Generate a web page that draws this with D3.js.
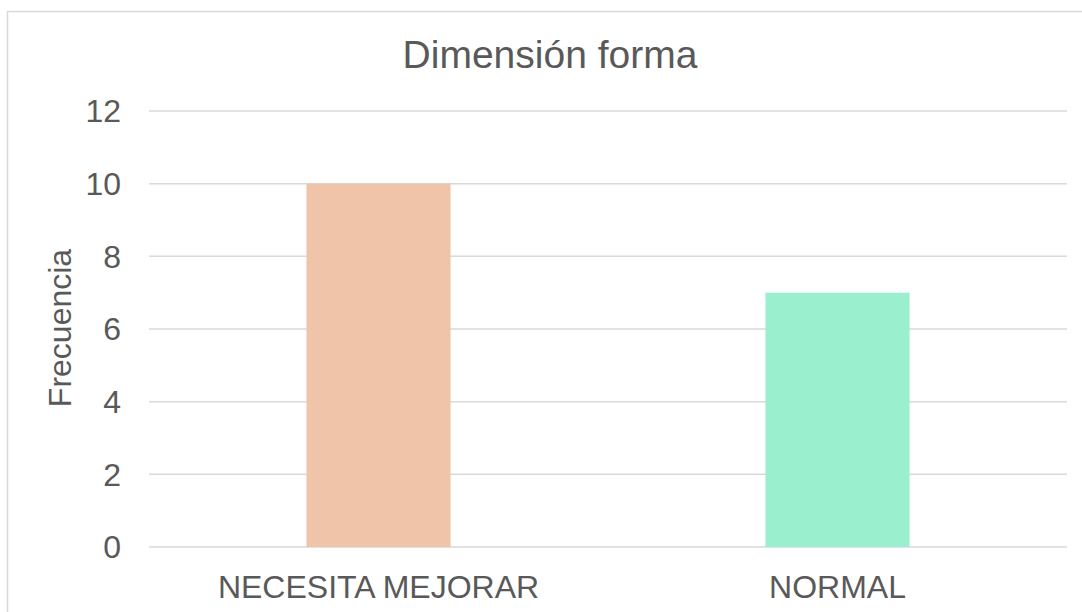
<!DOCTYPE html>
<html>
<head>
<meta charset="utf-8">
<script src="https://cdn.jsdelivr.net/npm/d3@7"></script>
<style>
  body { margin: 0; background: #fff; }
  text { font-family: "Liberation Sans", Arial, sans-serif; fill: #595959; }
</style>
</head>
<body>
<svg id="chart" width="1082" height="612"></svg>
<script>
  // Data
  var categories = ['NECESITA MEJORAR', 'NORMAL']
  var values = [10, 7]
  var barColors = ['#F0C4A9', '#9AEFCE']
  var yTicks = [0, 2, 4, 6, 8, 10, 12]

  var svg = d3.select('#chart')

  // chart area border
  svg.append('rect')
    .attr('x', 7.5).attr('y', 11.5)
    .attr('width', 1100).attr('height', 700)
    .attr('fill', '#fff')
    .attr('stroke', '#d9d9d9')
    .attr('stroke-width', 1.5)

  var x = d3.scaleBand()
    .domain(categories)
    .range([149, 1067])
    .paddingInner(0.686)
    .paddingOuter(0.343)

  var y = d3.scaleLinear()
    .domain([0, 12])
    .range([547, 111])

  // gridlines
  svg.append('g')
    .selectAll('line')
    .data(yTicks)
    .enter().append('line')
    .attr('x1', 149).attr('x2', 1067)
    .attr('y1', function (d) { return y(d) })
    .attr('y2', function (d) { return y(d) })
    .attr('stroke', '#d9d9d9')
    .attr('stroke-width', 1.5)

  // bars
  svg.append('g')
    .selectAll('rect')
    .data(values)
    .enter().append('rect')
    .attr('x', function (d, i) { return x(categories[i]) })
    .attr('y', function (d) { return y(d) })
    .attr('width', x.bandwidth())
    .attr('height', function (d) { return y(0) - y(d) })
    .attr('fill', function (d, i) { return barColors[i] })

  // y tick labels
  svg.append('g')
    .selectAll('text')
    .data(yTicks)
    .enter().append('text')
    .attr('x', 121)
    .attr('y', function (d) { return y(d) })
    .attr('dy', '0.35em')
    .attr('text-anchor', 'end')
    .style('font-size', '32px')
    .text(function (d) { return d })

  // x labels
  svg.append('g')
    .selectAll('text')
    .data(categories)
    .enter().append('text')
    .attr('x', function (d) { return x(d) + x.bandwidth() / 2 })
    .attr('y', 598)
    .attr('text-anchor', 'middle')
    .style('font-size', '32px')
    .text(function (d) { return d })

  // axis title
  svg.append('text')
    .attr('transform', 'translate(71,328) rotate(-90)')
    .attr('text-anchor', 'middle')
    .style('font-size', '32px')
    .text('Frecuencia')

  // chart title
  svg.append('text')
    .attr('x', 550)
    .attr('y', 68)
    .attr('text-anchor', 'middle')
    .style('font-size', '39px')
    .text('Dimensión forma')
</script>
</body>
</html>
